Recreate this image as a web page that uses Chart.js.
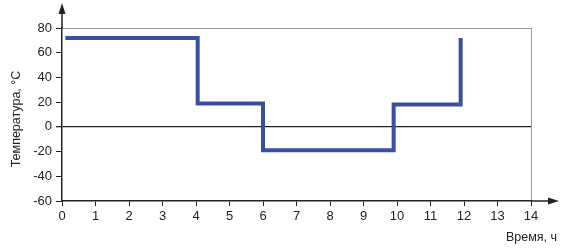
<!DOCTYPE html>
<html><head><meta charset="utf-8">
<script src="https://cdn.jsdelivr.net/npm/chart.js@4/dist/chart.umd.min.js"></script>
<style>html,body{margin:0;padding:0;background:#fff}#wrap{width:571px;height:250px}</style>
</head><body><div id="wrap"><canvas id="c" width="571" height="250"></canvas></div>
<script>
const times = [0.1, 4.05, 6.0, 9.9, 11.9];
const temps = [72, 19, -19, 18, 72];
const xTicks = [0,1,2,3,4,5,6,7,8,9,10,11,12,13,14];
const yTicks = [-60,-40,-20,0,20,40,60,80];
const xTitle = 'Время, ч';
const yTitle = 'Температура, °C';

const FONT = '"Liberation Sans", Arial, sans-serif';
const AX = '#222';

const arrows = {
  id: 'arrows',
  afterDraw(chart) {
    const ctx = chart.ctx, a = chart.chartArea;
    ctx.save();
    ctx.strokeStyle = AX; ctx.fillStyle = AX; ctx.lineWidth = 1.5;
    ctx.beginPath(); ctx.moveTo(a.left, a.top); ctx.lineTo(a.left, 12); ctx.stroke();
    ctx.beginPath(); ctx.moveTo(a.left, 3); ctx.lineTo(a.left - 3.5, 14); ctx.lineTo(a.left + 3.5, 14); ctx.closePath(); ctx.fill();
    ctx.beginPath(); ctx.moveTo(a.right, a.bottom); ctx.lineTo(550, a.bottom); ctx.stroke();
    ctx.beginPath(); ctx.moveTo(559, a.bottom); ctx.lineTo(548, a.bottom - 3.5); ctx.lineTo(548, a.bottom + 3.5); ctx.closePath(); ctx.fill();
    ctx.font = '12.5px ' + FONT; ctx.textAlign = 'right'; ctx.textBaseline = 'middle';
    ctx.fillText(xTitle, 557, 238);
    ctx.translate(16.5, 119); ctx.rotate(-Math.PI / 2);
    ctx.textAlign = 'center';
    ctx.fillText(yTitle, 0, 0);
    ctx.restore();
  }
};

new Chart(document.getElementById('c'), {
  type: 'line',
  data: { datasets: [{
    data: times.map((t, i) => ({x: t, y: temps[i]})),
    stepped: 'before',
    borderColor: '#3a4ea2', borderWidth: 4, pointRadius: 0, fill: false,
    borderCapStyle: 'butt', borderJoinStyle: 'miter'
  }]},
  options: {
    responsive: false, animation: false, devicePixelRatio: 1,
    layout: { padding: { left: 0, top: 28, right: 40, bottom: 0 } },
    plugins: { legend: { display: false }, tooltip: { enabled: false } },
    scales: {
      x: {
        type: 'linear', min: 0, max: 14,
        afterBuildTicks(s) { s.ticks = xTicks.map(v => ({value: v})); },
        afterFit(s) { s.height = 49; },
        border: { display: true, color: AX, width: 1.5 },
        grid: { drawOnChartArea: true, tickLength: 5, tickColor: AX,
          color: c => c.tick && c.tick.value === 14 ? '#999' : 'rgba(0,0,0,0)', lineWidth: 1 },
        ticks: { color: '#222', font: { family: FONT, size: 13 }, padding: 3, maxRotation: 0, autoSkip: false }
      },
      y: {
        min: -60, max: 80,
        afterBuildTicks(s) { s.ticks = yTicks.map(v => ({value: v})); },
        afterFit(s) { s.width = 62; },
        border: { display: true, color: AX, width: 1.5 },
        grid: { drawOnChartArea: true, tickLength: 6, tickColor: AX,
          color: c => c.tick && c.tick.value === 0 ? '#222' : (c.tick && c.tick.value === 80 ? '#999' : 'rgba(0,0,0,0)'),
          lineWidth: c => c.tick && c.tick.value === 0 ? 1.3 : 1 },
        ticks: { color: '#222', font: { family: FONT, size: 13 }, padding: 4 },
        title: { display: false }
      }
    }
  },
  plugins: [arrows]
});
</script></body></html>
